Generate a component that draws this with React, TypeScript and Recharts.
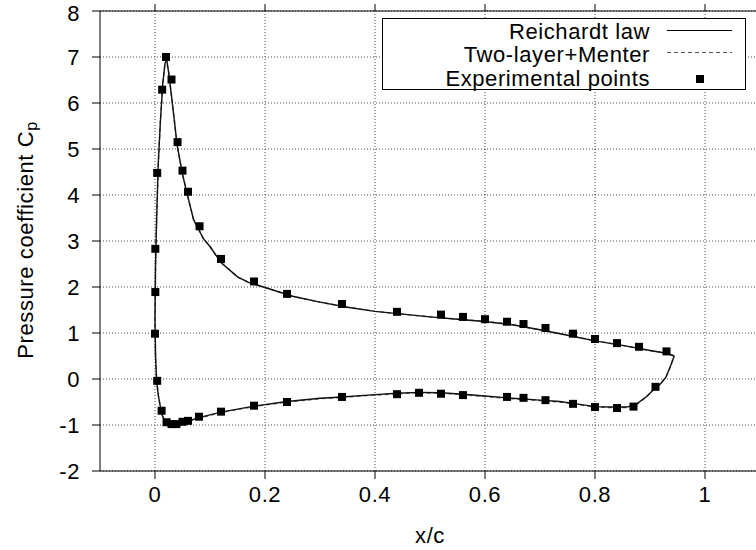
import React from 'react';
import { ComposedChart, Line, Scatter, XAxis, YAxis, CartesianGrid } from 'recharts';

// Reichardt law (closed Cp loop: upper surface from trailing edge to leading edge, then lower surface back)
const reichX = [0.944, 0.93, 0.9, 0.85, 0.8, 0.75, 0.7, 0.65, 0.6, 0.55, 0.5, 0.45, 0.4, 0.35, 0.3, 0.25, 0.2, 0.17, 0.15, 0.12, 0.1, 0.088, 0.07, 0.06, 0.05, 0.04, 0.035, 0.03, 0.025, 0.021, 0.018, 0.014, 0.01, 0.006, 0.003, 0.001, 0.0, 0.001, 0.003, 0.006, 0.01, 0.014, 0.02, 0.03, 0.04, 0.05, 0.06, 0.08, 0.12, 0.18, 0.24, 0.3, 0.34, 0.4, 0.44, 0.48, 0.52, 0.56, 0.6, 0.65, 0.7, 0.736, 0.76, 0.8, 0.827, 0.858, 0.876, 0.894, 0.909, 0.918, 0.929, 0.937, 0.944];
const reichCp = [0.5, 0.56, 0.62, 0.73, 0.83, 0.95, 1.07, 1.18, 1.25, 1.3, 1.35, 1.41, 1.47, 1.56, 1.67, 1.8, 1.99, 2.1, 2.22, 2.53, 2.88, 3.05, 3.47, 3.95, 4.45, 5.1, 5.64, 6.15, 6.65, 6.96, 6.85, 6.4, 5.64, 4.7, 3.5, 2.5, 1.3, 0.5, -0.05, -0.35, -0.62, -0.82, -0.94, -0.98, -0.97, -0.94, -0.91, -0.84, -0.72, -0.59, -0.49, -0.42, -0.39, -0.34, -0.31, -0.29, -0.3, -0.33, -0.37, -0.42, -0.46, -0.49, -0.53, -0.6, -0.61, -0.61, -0.54, -0.38, -0.2, -0.12, 0.04, 0.27, 0.5];

// Two-layer + Menter (nearly identical to Reichardt law)
const twoX = [0.944, 0.93, 0.9, 0.85, 0.8, 0.75, 0.7, 0.65, 0.6, 0.55, 0.5, 0.45, 0.4, 0.35, 0.3, 0.25, 0.2, 0.17, 0.15, 0.12, 0.1, 0.088, 0.07, 0.06, 0.05, 0.04, 0.035, 0.03, 0.025, 0.021, 0.018, 0.014, 0.01, 0.006, 0.003, 0.001, 0.0, 0.001, 0.003, 0.006, 0.01, 0.014, 0.02, 0.03, 0.04, 0.05, 0.06, 0.08, 0.12, 0.18, 0.24, 0.3, 0.34, 0.4, 0.44, 0.48, 0.52, 0.56, 0.6, 0.65, 0.7, 0.736, 0.76, 0.8, 0.827, 0.858, 0.876, 0.894, 0.909, 0.918, 0.929, 0.937, 0.944];
const twoCp = [0.5, 0.56, 0.62, 0.73, 0.83, 0.95, 1.07, 1.18, 1.25, 1.3, 1.35, 1.41, 1.47, 1.56, 1.67, 1.8, 1.99, 2.1, 2.22, 2.53, 2.88, 3.05, 3.47, 3.95, 4.45, 5.1, 5.64, 6.15, 6.65, 6.94, 6.84, 6.4, 5.64, 4.7, 3.5, 2.5, 1.3, 0.5, -0.05, -0.35, -0.62, -0.82, -0.94, -0.99, -0.98, -0.95, -0.92, -0.85, -0.73, -0.6, -0.5, -0.43, -0.4, -0.35, -0.32, -0.3, -0.31, -0.34, -0.38, -0.43, -0.47, -0.5, -0.54, -0.61, -0.62, -0.62, -0.55, -0.38, -0.2, -0.12, 0.04, 0.27, 0.5];

// Experimental points
const expX = [0.013, 0.02, 0.03, 0.041, 0.05, 0.06, 0.081, 0.12, 0.18, 0.24, 0.34, 0.44, 0.52, 0.56, 0.6, 0.64, 0.67, 0.71, 0.76, 0.8, 0.84, 0.88, 0.93, 0.004, 0.0006, 0.0006, 0.0, 0.004, 0.012, 0.021, 0.03, 0.039, 0.05, 0.06, 0.08, 0.12, 0.18, 0.24, 0.34, 0.44, 0.48, 0.52, 0.56, 0.64, 0.67, 0.71, 0.76, 0.8, 0.84, 0.87, 0.91];
const expCp = [6.29, 7.0, 6.51, 5.15, 4.53, 4.07, 3.32, 2.61, 2.12, 1.85, 1.63, 1.46, 1.4, 1.35, 1.3, 1.245, 1.195, 1.11, 0.985, 0.87, 0.78, 0.7, 0.6, 4.48, 2.83, 1.89, 0.985, -0.04, -0.69, -0.94, -0.98, -0.98, -0.93, -0.91, -0.82, -0.71, -0.58, -0.5, -0.39, -0.33, -0.3, -0.32, -0.35, -0.39, -0.41, -0.46, -0.54, -0.61, -0.63, -0.6, -0.17];

const xTicks = [0, 0.2, 0.4, 0.6, 0.8, 1];
const yTicks = [-2, -1, 0, 1, 2, 3, 4, 5, 6, 7, 8];
const legendLabels = ['Reichardt law', 'Two-layer+Menter', 'Experimental points'];

const reichData = reichX.map((x, i) => ({ x, cp: reichCp[i] }));
const twoData = twoX.map((x, i) => ({ x, cp: twoCp[i] }));
const expData = expX.map((x, i) => ({ x, cp: expCp[i] }));

const FONT = '"Liberation Sans", Arial, Helvetica, sans-serif';
const FS = 22;
const LS = 0.6;

const tickStyle = { fontFamily: FONT, fontSize: FS, fill: '#000', letterSpacing: LS };

const YLabel = (props: any) => {
  const vb = props.viewBox || { x: 0, y: 0, width: 100, height: 460 };
  const cx = vb.x + 25;
  const cy = vb.y + vb.height / 2 - 1;
  return (
    <text
      x={cx}
      y={cy}
      transform={`rotate(-90, ${cx}, ${cy})`}
      textAnchor="middle"
      dominantBaseline="central"
      style={{ fontFamily: FONT, fontSize: FS, fill: '#000', letterSpacing: LS }}
    >
      Pressure coefficient C<tspan dy={6} fontSize={16}>p</tspan>
    </text>
  );
};

const XLabel = (props: any) => {
  const vb = props.viewBox || { x: 0, y: 0, width: 660, height: 79 };
  const cx = vb.x + vb.width / 2;
  const cy = vb.y + 64;
  return (
    <text
      x={cx}
      y={cy}
      textAnchor="middle"
      dominantBaseline="central"
      style={{ fontFamily: FONT, fontSize: FS, fill: '#000', letterSpacing: LS }}
    >
      x/c
    </text>
  );
};

const LegendBox = () => (
  <div
    style={{
      position: 'absolute',
      left: 382,
      top: 18,
      width: 364,
      height: 72,
      border: '1px solid #000',
      boxSizing: 'border-box',
      background: '#fff',
    }}
  >
    <svg width={364} height={72} style={{ position: 'absolute', left: -1, top: -1, overflow: 'visible' }}>
      {legendLabels.map((t, i) => (
        <text
          key={t}
          x={268}
          y={13 + i * 23.5}
          textAnchor="end"
          dominantBaseline="central"
          style={{ fontFamily: FONT, fontSize: FS, fill: '#000', letterSpacing: LS }}
        >
          {t}
        </text>
      ))}
      <line x1={285} x2={350} y1={12.5} y2={12.5} stroke="#000" strokeWidth={1.2} />
      <line x1={285} x2={350} y1={34.5} y2={34.5} stroke="#555" strokeWidth={1} strokeDasharray="4 3" />
      <rect x={314} y={57} width={8} height={8} fill="#000" />
    </svg>
  </div>
);

export default function App() {
  return (
    <div
      style={{
        position: 'absolute',
        left: 0,
        top: 0,
        width: 756,
        height: 550,
        overflow: 'hidden',
        background: '#fff',
      }}
    >
      <ComposedChart
        width={770}
        height={550}
        margin={{ top: 10, right: 10, left: 0, bottom: 0 }}
      >
        <CartesianGrid stroke="#444" strokeDasharray="1 2" horizontalValues={yTicks} verticalValues={xTicks} />
        <XAxis
          dataKey="x"
          type="number"
          domain={[-0.1, 1.1]}
          ticks={xTicks}
          allowDataOverflow
          height={79}
          tickSize={8}
          tickMargin={7}
          tick={tickStyle}
          stroke="#000"
          tickLine={{ stroke: '#000' }}
          axisLine={{ stroke: '#000' }}
          label={<XLabel />}
        />
        <XAxis
          xAxisId="top"
          orientation="top"
          dataKey="x"
          type="number"
          domain={[-0.1, 1.1]}
          ticks={xTicks}
          allowDataOverflow
          height={1}
          tickSize={7}
          tickFormatter={() => ''}
          stroke="#000"
        />
        <YAxis
          dataKey="cp"
          type="number"
          domain={[-2, 8]}
          ticks={yTicks}
          allowDataOverflow
          width={100}
          tickSize={8}
          tickMargin={12}
          tick={tickStyle}
          stroke="#000"
          label={<YLabel />}
        />
        <Line
          data={twoData}
          dataKey="cp"
          type="linear"
          stroke="#666"
          strokeWidth={1.4}
          strokeDasharray="4 3"
          dot={false}
          isAnimationActive={false}
          name="Two-layer+Menter"
        />
        <Line
          data={reichData}
          dataKey="cp"
          type="linear"
          stroke="#111"
          strokeWidth={1.4}
          dot={false}
          isAnimationActive={false}
          name="Reichardt law"
        />
        <Scatter
          data={expData}
          dataKey="cp"
          shape="square"
          fill="#000"
          isAnimationActive={false}
          name="Experimental points"
        />
      </ComposedChart>
      <LegendBox />
    </div>
  );
}
